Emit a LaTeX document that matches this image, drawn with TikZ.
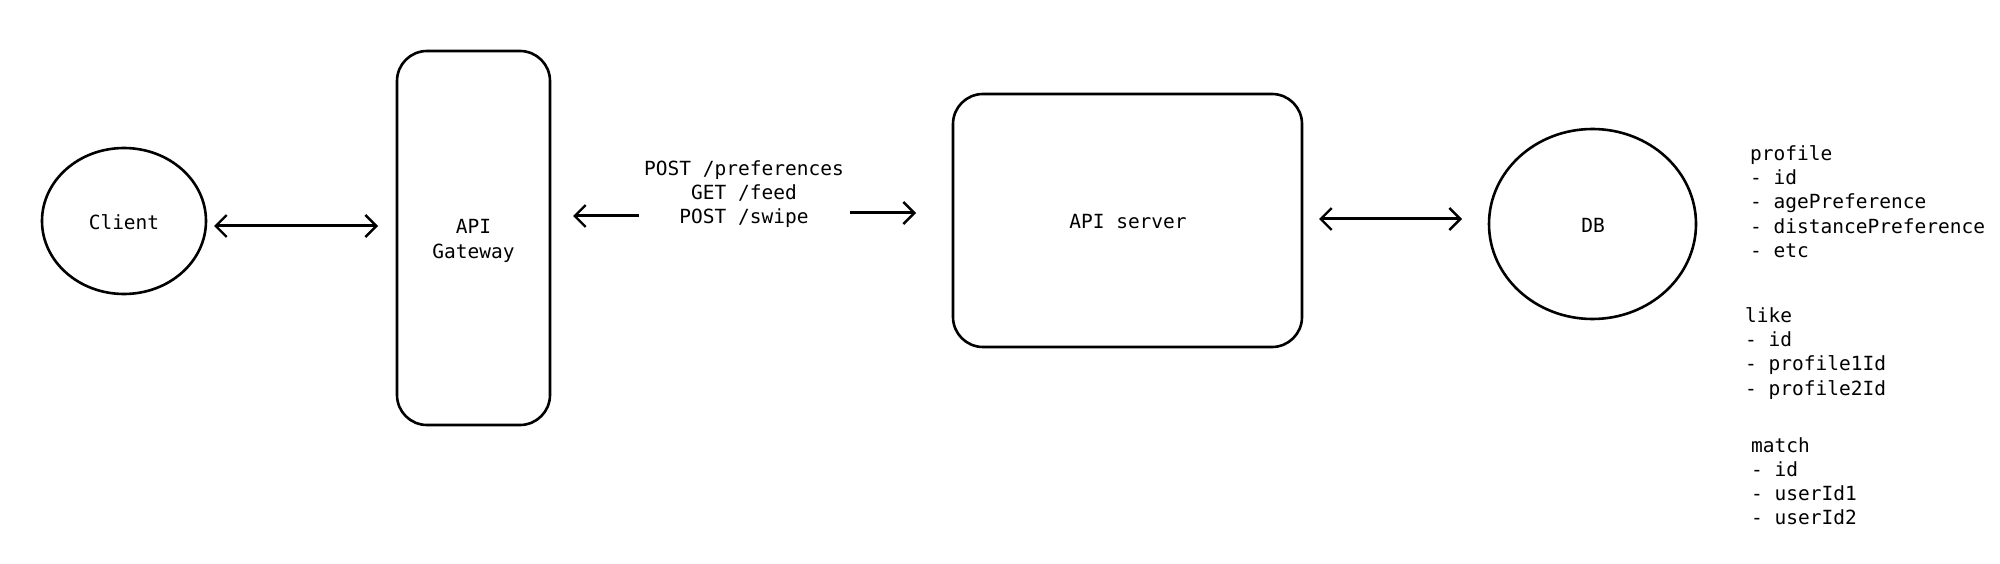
\documentclass[tikz,border=0pt]{standalone}
\usepackage{fontspec}
\newfontfamily\mono{DejaVu Sans Mono}
\usetikzlibrary{arrows.meta,shapes.geometric}
\begin{document}
\begin{tikzpicture}[x=1pt,y=-1pt,
  txt/.style={font=\mono\fontsize{19.5}{24.3}\selectfont, inner sep=0pt},
  boxshape/.style={draw, line width=2.6pt, rounded corners=30pt, inner sep=0pt},
  oval/.style={draw, ellipse, line width=2.6pt, inner sep=0pt},
  conn/.style={line width=3pt, {Straight Barb[length=11pt,width=22pt,line width=2.4pt]}-{Straight Barb[length=11pt,width=22pt,line width=2.4pt]}},
  oneway/.style={line width=3pt, -{Straight Barb[length=11pt,width=22pt,line width=2.4pt]}}]
\useasboundingbox[fill=white] (0,0) rectangle (2000,564);
% shapes
\node[oval, minimum width=164pt, minimum height=146pt] (client) at (124,221) {};
\node[txt] (clientlbl) at (124,222) {Client};
\node[boxshape, minimum width=153pt, minimum height=374pt] (gw) at (473.5,238) {};
\node[txt, align=center] (gwlbl) at (473.5,241) {API\\Gateway};
\node[boxshape, minimum width=349pt, minimum height=253pt] (srv) at (1127.5,220.5) {};
\node[txt] (srvlbl) at (1128,222) {API server};
\node[oval, minimum width=207pt, minimum height=190pt] (db) at (1592.5,224) {};
\node[txt] (dblbl) at (1593,225) {DB};
% endpoints label
\node[txt, align=center] (eps) at (744,194) {POST /preferences\\GET /feed\\POST /swipe};
% schema
\node[txt, align=left, anchor=north west] (prof) at (1750,145) {profile\\- id\\- agePreference\\- distancePreference\\- etc};
\node[txt, align=left, anchor=north west] (like) at (1745,307) {like\\- id\\- profile1Id\\- profile2Id};
\node[txt, align=left, anchor=north west] (match) at (1751,437) {match\\- id\\- userId1\\- userId2};
% connector ends
\coordinate (a1) at (214,226);
\coordinate (a2) at (378,226);
\coordinate (b1) at (639,216);
\coordinate (b2) at (573,216);
\coordinate (c1) at (850,213);
\coordinate (c2) at (916,213);
\coordinate (d1) at (1319,219);
\coordinate (d2) at (1462,219);
\draw[conn] (a1) -- (a2);
\draw[oneway] (b1) -- (b2);
\draw[oneway] (c1) -- (c2);
\draw[conn] (d1) -- (d2);
\end{tikzpicture}
\end{document}
